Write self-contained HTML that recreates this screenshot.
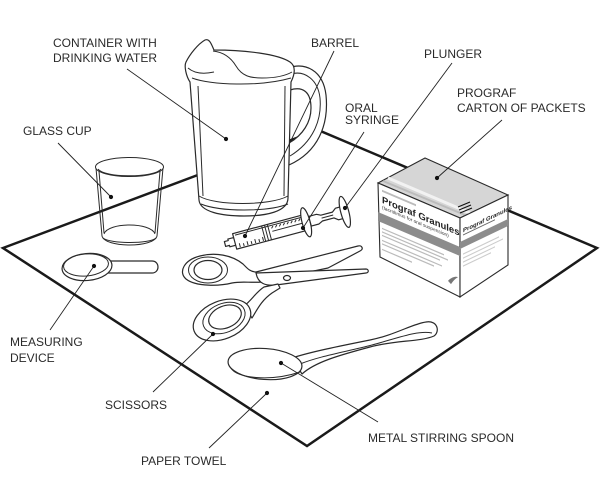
<!DOCTYPE html>
<html>
<head>
<meta charset="utf-8">
<style>
  html,body{margin:0;padding:0;background:#fff;}
  svg{display:block;}
  .lbl{font-family:"Liberation Sans",Arial,sans-serif;font-size:12px;fill:#2a2a2a;}
  .o{fill:#fff;stroke:#2a2a2a;stroke-width:1.2;stroke-linejoin:round;}
  .n{fill:none;stroke:#2a2a2a;stroke-width:1;}
  .ld{stroke:#222;stroke-width:0.9;fill:none;}
</style>
</head>
<body>
<svg width="603" height="479" viewBox="0 0 603 479" xmlns="http://www.w3.org/2000/svg">
  <rect width="603" height="479" fill="#fff"/>

  <!-- Paper towel -->
  <polygon points="3,248 318,130 597,248 307,446" fill="none" stroke="#1a1a1a" stroke-width="2.5"/>

  <!-- Glass cup (transparent) -->
  <g>
    <path class="n" d="M96,168 L102,236 C105,248 154,248 157,236 L163,168"/>
    <path class="n" d="M99,171 L104,233"/>
    <path class="n" d="M160,171 L155,233"/>
    <path class="n" d="M104,234 C108,222 151,222 155,234"/>
    <path class="n" d="M103,238 C110,244 150,244 156,238"/>
    <ellipse class="n" cx="129.5" cy="167" rx="34" ry="9.5"/>
    <path class="n" d="M98,169 C104,178 155,178 161,169"/>
  </g>

  <!-- Pitcher -->
  <g>
    <path class="o" d="M288,68 C305,62 323,70 326,95 C329,125 318,152 289,165 L289,143 C303,135 311,122 311,108 C311,92 303,86 290,90 Z"/>
    <path class="n" d="M291,74 C305,70 318,80 320,98 C322,120 313,142 290,156" stroke-width="0.8"/>
    <path class="o" d="M190,82 C186,76 184,66 186,62 C190,54 198,44 205,40 C210,38 212,46 214,50 C245,50 278,54 290,62 C296,66 295,74 291,82 L288,198 C288,212 265,216 244,216 C222,216 200,212 199,200 Z"/>
    <path class="n" d="M213,51 C222,52 230,56 236,66 C242,76 250,78 262,78 C275,78 285,76 292,72"/>
    <path class="n" d="M188,68 C195,74 205,74 214,72"/>
    <path class="n" d="M192,78 C210,85 260,87 291,78"/>
    <path class="n" d="M198,86 L203,196"/>
    <path class="n" d="M285,86 L284,196"/>
    <path class="n" d="M199,196 C215,206 270,206 288,196"/>
    <path class="n" d="M201,204 C220,212 268,212 288,204"/>
  </g>

  <!-- Syringe -->
  <g transform="translate(225,244) rotate(-15)">
    <path class="o" d="M0,-2.5 L4,-2.5 L4,-4 L11,-4 L11,4 L4,4 L4,2.5 L0,2.5 Z"/>
    <rect class="o" x="10" y="-8" width="73" height="16"/>
    <path class="n" d="M12,-6 L82,-6" stroke-width="0.6"/>
    <path class="n" d="M40,-8 L40,8 M43,-8 L43,8 M46,-8 L46,8" stroke-width="0.8"/>
    <path class="n" stroke-width="0.6" d="M14,3 L14,7 M18,4 L18,7 M22,3 L22,7 M26,4 L26,7 M30,3 L30,7 M34,4 L34,7 M38,3 L38,7"/>
    <path class="n" stroke-width="0.6" d="M49,-3 l2,-2 M53,-3 l2,-2 M57,-3 l2,-2 M61,-3 l2,-2 M65,-3 l2,-2 M69,-3 l2,-2 M73,-3 l2,-2 M77,-3 l2,-2 M49,0 L80,0"/>
    <ellipse class="o" cx="84" cy="0" rx="4" ry="15"/>
    <path class="o" d="M88,-5 L96,-5 L100,-3 L112,-3 L116,-6 L122,-6 L122,6 L116,6 L112,3 L100,3 L96,5 L88,5 Z"/>
    <path class="n" d="M100,0 L112,0" stroke-width="0.6"/>
    <ellipse class="o" cx="124" cy="0" rx="4" ry="16"/>
  </g>

  <!-- Box: Prograf carton -->
  <g>
    <polygon points="378,183 425,158 508,195 460,218" fill="#d6d6d6" stroke="#2a2a2a" stroke-width="1.1"/>
    <path d="M388,178 L470,213" stroke="#f2f2f2" stroke-width="3"/>
    <path d="M383,181 L465,215" stroke="#bcbcbc" stroke-width="2"/>
    <path d="M458,207 L470,202 M459,210 L471,205 M460,213 L472,208" stroke="#111" stroke-width="1.2"/>
    <polygon points="378,183 460,218 460,297 380,257" fill="#fff" stroke="#2a2a2a" stroke-width="1.1"/>
    <polygon points="460,218 508,195 508,265 460,297" fill="#fff" stroke="#2a2a2a" stroke-width="1.1"/>
    <g transform="matrix(1,0.427,0,1,378,183)" font-family="Liberation Sans, Arial, sans-serif">
      <rect x="4" y="5" width="34" height="2" fill="#bbb"/>
      <text x="4" y="18" font-size="9.5" font-weight="bold" fill="#222">Prograf Granules</text>
      <text x="4" y="24" font-size="4.8" fill="#333">(tacrolimus for oral suspension)</text>
      <rect x="0" y="29" width="82" height="9" fill="#8c8c8c"/>
      <rect x="4" y="43" width="62" height="1.3" fill="#bbb"/>
      <rect x="4" y="46.5" width="66" height="1.3" fill="#bbb"/>
      <rect x="4" y="50" width="58" height="1.3" fill="#bbb"/>
      <rect x="4" y="55" width="60" height="1.3" fill="#bbb"/>
      <rect x="4" y="58.5" width="52" height="1.3" fill="#bbb"/>
      <rect x="4" y="64" width="30" height="1.3" fill="#bbb"/>
      <path d="M70,68 C74,62 78,60 80,60 C77,63 75,66 73,70 Z" fill="#777"/>
    </g>
    <g transform="matrix(1,-0.48,0,1,460,218)" font-family="Liberation Sans, Arial, sans-serif">
      <text x="3" y="16" font-size="6" font-weight="bold" fill="#222">Prograf Granules</text>
      <rect x="3" y="18" width="32" height="1" fill="#666"/>
      <rect x="0" y="24" width="48" height="7" fill="#8c8c8c"/>
      <rect x="3" y="37" width="36" height="1.2" fill="#ccc"/>
      <rect x="3" y="41" width="40" height="1.2" fill="#ccc"/>
      <rect x="3" y="45" width="32" height="1.2" fill="#ccc"/>
      <rect x="3" y="49" width="28" height="1.2" fill="#ccc"/>
    </g>
  </g>

  <!-- Measuring device -->
  <g>
    <path class="o" d="M104,261 L152,261 C160,261 160,273 152,273 L104,273 Z"/>
    <ellipse class="o" cx="87" cy="267" rx="25" ry="13.5" transform="rotate(-5 87 267)"/>
    <ellipse class="n" cx="86" cy="265" rx="22.5" ry="11" transform="rotate(-5 86 265)" stroke-width="0.7"/>
  </g>

  <!-- Scissors -->
  <g>
    <!-- upper handle + upper blade -->
    <path class="o" d="M358,246 C362,245 364,249 360,251 L328,268 L290,276 L262,282 C250,283 242,281 232,283 C220,286 196,287 186,279 C178,272 184,260 200,256 C215,252 232,255 243,264 C247,268 250,272 256,272 Z"/>
    <ellipse class="n" cx="208" cy="270" rx="19.5" ry="13" stroke-width="0.8"/>
    <ellipse class="o" cx="208" cy="270" rx="14" ry="9.5"/>
    <!-- lower blade -->
    <path class="o" d="M256,273 L366,269 C369,269 369,273 366,273 L276,285 C266,286 258,284 256,273 Z"/>
    <ellipse class="o" cx="287" cy="278" rx="3.5" ry="2.5"/>
    <!-- lower arm + ring -->
    <path class="o" d="M244,306 C252,300 256,292 264,287 L278,284 L280,288 L272,293 C262,300 258,308 252,318 Z"/>
    <ellipse class="o" cx="222" cy="320" rx="30" ry="19" transform="rotate(-22 222 320)"/>
    <ellipse class="n" cx="224" cy="318" rx="22" ry="14.5" transform="rotate(-22 224 318)" stroke-width="0.8"/>
    <ellipse class="o" cx="225" cy="317" rx="17" ry="11" transform="rotate(-22 225 317)"/>
  </g>

  <!-- Spoon -->
  <g>
    <path class="o" d="M292,358 C310,352 340,346 370,340 C395,335 412,324 426,322 C438,320 440,332 434,336 C420,342 395,340 370,347 C340,355 315,362 302,374 Z"/>
    <path class="n" d="M300,364 C320,356 345,352 372,345 C398,338 418,330 432,333" stroke-width="0.7"/>
    <ellipse class="o" cx="265" cy="364" rx="37" ry="15.5" transform="rotate(4 265 364)"/>
    <path class="n" d="M231,368 C236,378 270,382 300,372" stroke-width="0.8"/>
  </g>

  <!-- Leaders -->
  <g class="ld">
    <line x1="127" y1="69" x2="226" y2="139"/>
    <line x1="58" y1="143" x2="111" y2="197"/>
    <line x1="334" y1="51" x2="245" y2="236"/>
    <line x1="452" y1="63" x2="345" y2="208"/>
    <line x1="364" y1="132" x2="303" y2="228"/>
    <line x1="502" y1="120" x2="437" y2="178"/>
    <line x1="50" y1="330" x2="94" y2="266"/>
    <line x1="153" y1="392" x2="213" y2="334"/>
    <line x1="209" y1="448" x2="267" y2="393"/>
    <line x1="378" y1="422" x2="281" y2="363"/>
  </g>
  <g fill="#111">
    <circle cx="226" cy="139" r="2.1"/>
    <circle cx="111" cy="197" r="2.1"/>
    <circle cx="245" cy="236" r="2.1"/>
    <circle cx="345" cy="208" r="2.1"/>
    <circle cx="303" cy="228" r="2.1"/>
    <circle cx="437" cy="178" r="2.1"/>
    <circle cx="94" cy="266" r="2.1"/>
    <circle cx="213" cy="334" r="2.1"/>
    <circle cx="267" cy="393" r="2.1"/>
    <circle cx="281" cy="363" r="2.1"/>
  </g>

  <!-- Labels -->
  <text class="lbl" x="53" y="47">CONTAINER WITH</text>
  <text class="lbl" x="53" y="62">DRINKING WATER</text>
  <text class="lbl" x="23" y="135">GLASS CUP</text>
  <text class="lbl" x="311" y="47">BARREL</text>
  <text class="lbl" x="424" y="58">PLUNGER</text>
  <text class="lbl" x="345" y="112">ORAL</text>
  <text class="lbl" x="345" y="124">SYRINGE</text>
  <text class="lbl" x="457" y="97">PROGRAF</text>
  <text class="lbl" x="457" y="112">CARTON OF PACKETS</text>
  <text class="lbl" x="10" y="346">MEASURING</text>
  <text class="lbl" x="10" y="362">DEVICE</text>
  <text class="lbl" x="105" y="409">SCISSORS</text>
  <text class="lbl" x="141" y="465">PAPER TOWEL</text>
  <text class="lbl" x="368" y="442">METAL STIRRING SPOON</text>
</svg>
</body>
</html>
